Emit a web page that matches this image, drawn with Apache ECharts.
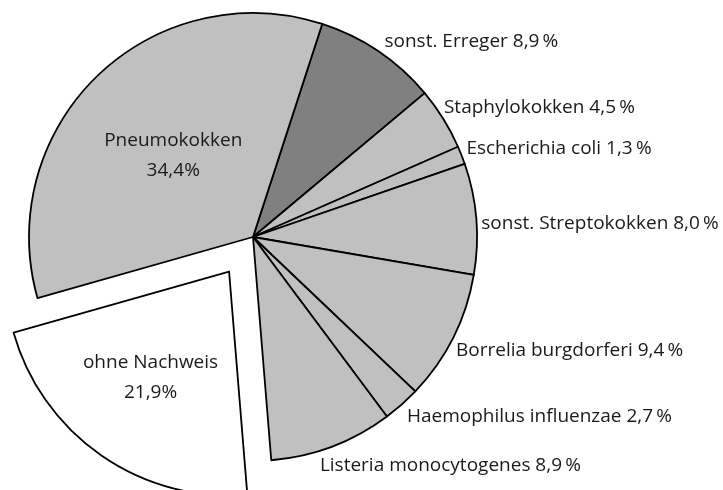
<!DOCTYPE html>
<html>
<head>
<meta charset="utf-8">
<script src="https://cdn.jsdelivr.net/npm/echarts@6/dist/echarts.min.js"></script>
<style>
  html, body { margin: 0; padding: 0; background: #fff; }
  #chart { width: 723px; height: 490px; }
</style>
</head>
<body>
<div id="chart"></div>
<script>
// Erreger (clockwise from sonst. Erreger)
var names = ["sonst. Erreger", "Staphylokokken", "Escherichia coli", "sonst. Streptokokken",
  "Borrelia burgdorferi", "Haemophilus influenzae", "Listeria monocytogenes", "ohne Nachweis", "Pneumokokken"];
var values = [8.9, 4.5, 1.3, 8.0, 9.4, 2.7, 8.9, 21.9, 34.4];
var valueLabels = ["8,9", "4,5", "1,3", "8,0", "9,4", "2,7", "8,9", "21,9", "34,4"];

var light = "#c0c0c0";
var fills = ["#808080", light, light, light, light, light, light, "#ffffff", light];
var insideNames = ["ohne Nachweis", "Pneumokokken"];
// small label nudges so the text sits where the original put it
var labelNudge = [[1, -8], [-5, -10], [-1, -6], [-1, 5], [-3, 12], [0, 11], [-17, 17], [-13, 12], [0, 1]];

var chartDom = document.getElementById("chart");
var myChart = echarts.init(chartDom, null, { renderer: "canvas" });

var seriesData = names.map(function (n, i) {
  var inside = insideNames.indexOf(n) >= 0;
  var dx = labelNudge[i][0], dy = labelNudge[i][1];
  var lab = inside
    ? {
        // inside labels: a spacer line pushes the text down, padding pushes it sideways
        position: "inside",
        formatter: "{sp| }\n{t|" + n + "}\n{t|" + valueLabels[i] + "%}",
        padding: [0, Math.max(0, -2 * dx), 0, Math.max(0, 2 * dx)],
        rich: {
          sp: { fontSize: 2, lineHeight: Math.max(1, 2 * dy) },
          t: { fontFamily: "Open Sans", fontSize: 19, color: "#1a1a1a", lineHeight: 30 }
        }
      }
    : { position: "outside", formatter: n + " " + valueLabels[i] + "\u2009%", offset: labelNudge[i] };
  var item = {
    name: n,
    value: values[i],
    itemStyle: { color: fills[i] },
    label: lab,
    select: { itemStyle: { color: fills[i], borderColor: "#000", borderWidth: 1.8 } }
  };
  if (n === "ohne Nachweis") item.selected = true;
  return item;
});

var option = {
  animation: false,
  backgroundColor: "#ffffff",
  series: [
    {
      type: "pie",
      center: [253, 237],
      radius: 224,
      startAngle: 72,
      clockwise: true,
      avoidLabelOverlap: false,
      selectedMode: "single",
      selectedOffset: 42,
      itemStyle: { borderColor: "#000", borderWidth: 1.8 },
      emphasis: { disabled: true },
      label: {
        color: "#1a1a1a",
        fontFamily: "Open Sans",
        fontSize: 19,
        distanceToLabelLine: 4
      },
      labelLine: { show: false, length: 2, length2: 0 },
      data: seriesData
    }
  ]
};
option && myChart.setOption(option);
</script>
</body>
</html>
